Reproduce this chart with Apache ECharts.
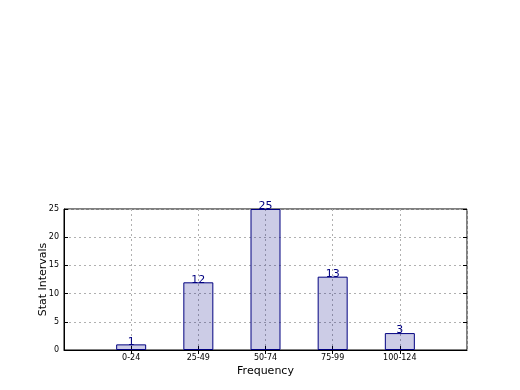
<!DOCTYPE html>
<html>
<head>
<meta charset="utf-8">
<script src="https://cdn.jsdelivr.net/npm/echarts@6/dist/echarts.min.js"></script>
<style>
  html, body { margin: 0; padding: 0; background: #fff; }
  #chart { width: 520px; height: 390px; }
</style>
</head>
<body>
<div id="chart"></div>
<script>
var categories = ['0-24', '25-49', '50-74', '75-99', '100-124'];
var counts = [1, 12, 25, 13, 3];
var y_ticks = [0, 5, 10, 15, 20, 25];

// pad an empty slot on each side, like the original axis range
var x_cats = [''].concat(categories, ['']);
var bar_data = [null].concat(counts, [null]);

var chart = echarts.init(document.getElementById('chart'), null, {renderer: 'canvas'});

var grid_line = {show: true, lineStyle: {color: '#b0b0b0', type: [2, 3], width: 1}};
var font = 'DejaVu Sans';
var tick_skip_ends = function (idx, val) { return val !== ''; };

var option = {
    animation: false,
    backgroundColor: '#ffffff',
    textStyle: {fontFamily: font},
    grid: {left: 64, right: 53, top: 209, bottom: 40, show: true, borderColor: '#000', borderWidth: 1, backgroundColor: 'transparent'},
    xAxis: [{
        type: 'category',
        data: x_cats,
        boundaryGap: false,
        name: 'Frequency',
        nameLocation: 'middle',
        nameGap: 16,
        nameTextStyle: {fontSize: 11, color: '#000', fontFamily: font},
        axisLine: {show: true, lineStyle: {color: '#000'}},
        axisTick: {show: true, inside: true, length: 4, interval: tick_skip_ends, lineStyle: {color: '#000'}},
        axisLabel: {fontSize: 8, color: '#000', margin: 4, fontFamily: font},
        splitLine: grid_line
    }, {
        type: 'category',
        data: x_cats,
        boundaryGap: false,
        position: 'top',
        axisLine: {show: false},
        axisTick: {show: true, inside: true, length: 4, interval: tick_skip_ends, lineStyle: {color: '#000'}},
        axisLabel: {show: false},
        splitLine: {show: false}
    }],
    yAxis: [{
        type: 'value',
        min: 0,
        max: 25,
        interval: 5,
        name: 'Stat Intervals',
        nameLocation: 'middle',
        nameGap: 15,
        nameMoveOverlap: false,
        nameTextStyle: {fontSize: 11, color: '#000', fontFamily: font},
        axisLine: {show: true, lineStyle: {color: '#000'}},
        axisTick: {show: true, inside: true, length: 4, lineStyle: {color: '#000'}},
        axisLabel: {fontSize: 8, color: '#000', margin: 5, fontFamily: font,
            formatter: function (v) { return y_ticks.indexOf(v) >= 0 ? String(v) : ''; }},
        splitLine: grid_line
    }, {
        type: 'value',
        min: 0,
        max: 25,
        interval: 5,
        position: 'right',
        axisLine: {show: false},
        axisTick: {show: true, inside: true, length: 4, lineStyle: {color: '#000'}},
        axisLabel: {show: false},
        splitLine: {show: false}
    }],
    series: [{
        type: 'bar',
        data: bar_data,
        barWidth: 30,
        itemStyle: {color: 'rgba(0,0,128,0.2)', borderColor: '#000080', borderWidth: 1},
        label: {show: true, position: 'top', distance: -3, fontSize: 11, color: '#000080', fontFamily: font}
    }]
};
chart.setOption(option, true);
</script>
</body>
</html>
